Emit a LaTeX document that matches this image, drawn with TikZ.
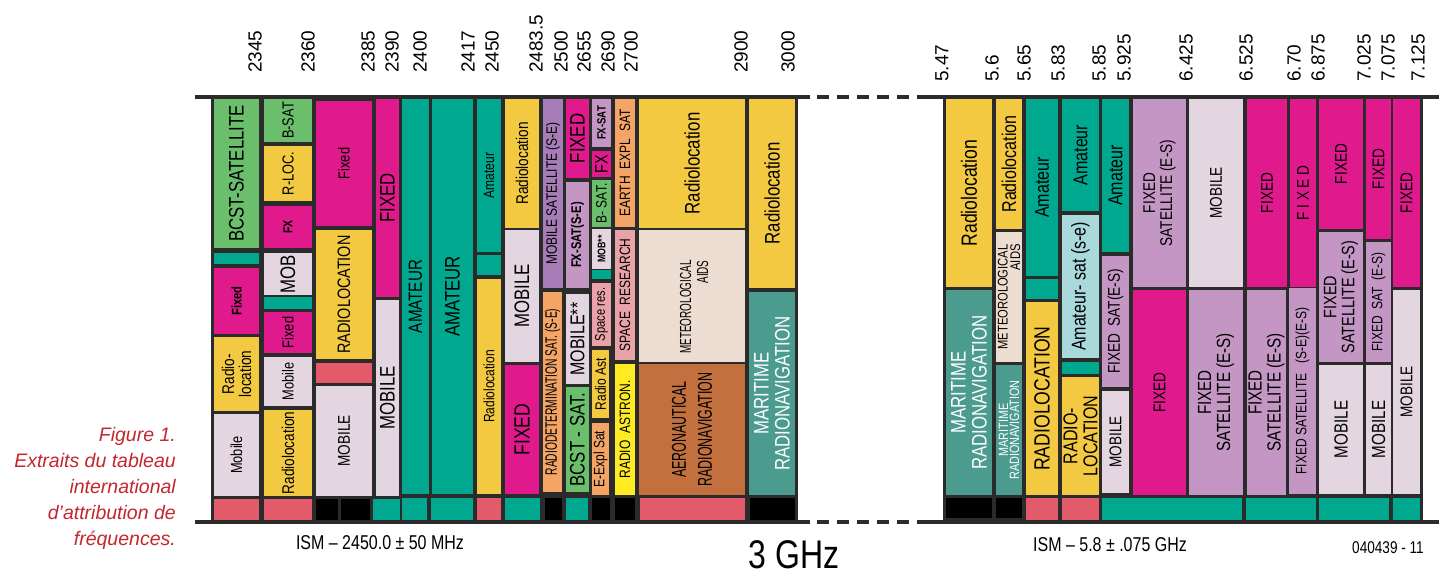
\documentclass[tikz,border=0pt]{standalone}
\usepackage{fontspec}
\setmainfont{Liberation Sans}
\newfontfamily\cond[FakeStretch=0.8]{Liberation Sans}
\newfontfamily\xcond[FakeStretch=0.62]{Liberation Sans}
\definecolor{dk}{HTML}{2B2B2B}
\definecolor{grn}{HTML}{6BBE6B}
\definecolor{mag}{HTML}{E01A8C}
\definecolor{yel}{HTML}{F3C941}
\definecolor{lgt}{HTML}{E3D6E0}
\definecolor{tea}{HTML}{00A890}
\definecolor{red}{HTML}{E35A6B}
\definecolor{pur}{HTML}{A77DB7}
\definecolor{lpu}{HTML}{C396C4}
\definecolor{org}{HTML}{F4A566}
\definecolor{spk}{HTML}{E9A3A8}
\definecolor{byl}{HTML}{FFEB22}
\definecolor{bge}{HTML}{EDDCD0}
\definecolor{brn}{HTML}{C1703E}
\definecolor{mtl}{HTML}{4B9B8F}
\definecolor{lcy}{HTML}{A9D9DA}
\definecolor{capred}{HTML}{C4262E}
\newcounter{bxc}
\tikzset{
  lbl/.style={rotate=90, inner sep=0pt, align=center, font=\cond\fontsize{#1}{#1}\selectfont},
  freq/.style={rotate=90, anchor=west, inner sep=0pt, font=\fontsize{19}{19}\selectfont},
  axisline/.style={dk, line width=4pt},
  dashline/.style={dk, line width=4pt, dash pattern=on 12pt off 8pt},
}
\newcommand\B[8][]{\fill[#6] (#2,#3) rectangle (#4,#5);
  \stepcounter{bxc}\node[lbl=#7,#1] (b\arabic{bxc}) at ({(#2+#4)/2},{(#3+#5)/2}) {#8};}
\newcommand\R[5]{\fill[#5] (#1,#2) rectangle (#3,#4);}
\begin{document}
\begin{tikzpicture}[x=1pt,y=-1pt]
\useasboundingbox (0,0) rectangle (1439,571);
% frames
\fill[dk] (211,95) rectangle (798,523);
\fill[dk] (943,95) rectangle (1423,523);
\draw[axisline] (195,97) -- (810,97);
\draw[dashline] (817,97) -- (923,97);
\draw[axisline] (923,97) -- (1439,97);
\draw[axisline] (195,521.5) -- (810,521.5);
\draw[dashline] (817,521.5) -- (923,521.5);
\draw[axisline] (923,521.5) -- (1439,521.5);
% ---------- left chart ----------
% col1
\B{214}{99}{259}{248}{grn}{21}{BCST-SATELLITE}
\R{214}{253}{259}{264}{tea}
\B{214}{268}{259}{334}{mag}{14}{\bfseries Fixed}
\B{214}{337}{259}{411}{yel}{17}{Radio-\\location}
\B{214}{414}{259}{496}{lgt}{16}{Mobile}
\R{214}{499}{259}{520}{red}
% col2
\B{264}{99}{312}{142}{grn}{16}{B-SAT}
\B{264}{146}{312}{201}{yel}{16}{R-LOC.}
\B{264}{206}{312}{248}{mag}{13}{\bfseries FX}
\B{264}{253}{312}{295}{lgt}{21}{MOB}
\R{264}{297}{312}{309}{tea}
\B{264}{312}{312}{353}{mag}{16}{Fixed}
\B{264}{357}{312}{406}{lgt}{16}{Mobile}
\B{264}{410}{312}{496}{yel}{17}{Radiolocation}
\R{264}{499}{312}{520}{red}
% col3
\B{316}{101}{372}{226}{mag}{16}{Fixed}
\B{316}{230}{372}{359}{yel}{18}{RADIOLOCATION}
\R{316}{363}{372}{383}{red}
\B{316}{386}{372}{496}{lgt}{17}{MOBILE}
\R{316}{499}{338}{520}{black}
\R{341}{499}{370}{520}{black}
% col4
\B{376}{99}{399}{297}{mag}{21}{FIXED}
\B{376}{300}{399}{496}{lgt}{21}{MOBILE}
\R{373}{499}{400}{520}{tea}
% col5-6
\B{402}{99}{429}{494}{tea}{19}{AMATEUR}
\R{402}{498}{427}{520}{tea}
\B{432}{99}{473}{494}{tea}{21}{AMATEUR}
\R{431}{498}{473}{520}{tea}
% col7
\B{477}{99}{501}{252}{tea}{15}{Amateur}
\R{477}{255}{501}{275}{tea}
\B{477}{279}{501}{494}{yel}{15}{Radiolocation}
\R{477}{498}{501}{520}{red}
% col8
\B{505}{99}{539}{228}{yel}{17}{Radiolocation}
\B{505}{230}{539}{362}{lgt}{21}{MOBILE}
\B{505}{365}{539}{494}{mag}{22}{FIXED}
\R{505}{498}{540}{520}{tea}
% col9
\B{543}{99}{563}{288}{pur}{15}{MOBILE\ SATELLITE\ (S-E)}
\B[font=\xcond\fontsize{16.5}{16.5}\selectfont]{543}{292}{562}{492}{org}{13}{RADIODETERMINATION SAT. (S-E)}
\R{545}{498}{562}{520}{black}
% col10
\B{566}{99}{589}{178}{mag}{21}{FIXED}
\B{566}{182}{589}{288}{lpu}{14}{\bfseries FX-SAT(S-E)}
\B{566}{294}{589}{384}{lgt}{20}{MOBILE**}
\B{566}{387}{589}{492}{grn}{21}{BCST - SAT.}
\R{566}{498}{588}{520}{tea}
% col11
\B{592}{99}{611}{147}{lpu}{12}{\bfseries FX-SAT}
\B{592}{151}{611}{177}{mag}{18}{FX}
\B{592}{180}{611}{227}{grn}{15}{B- SAT.}
\B{592}{229}{611}{269}{lgt}{11}{\bfseries MOB**}
\R{592}{270}{611}{279}{tea}
\B{592}{283}{611}{346}{spk}{14}{Space res.}
\B{592}{350}{609}{418}{yel}{15}{Radio Ast}
\B{592}{423}{609}{495}{org}{15}{E-Expl Sat}
\R{592}{498}{610}{520}{black}
% col12
\B{615}{99}{635}{227}{org}{15}{EARTH\ \ EXPL\ \ SAT}
\B{615}{230}{635}{360}{spk}{15}{SPACE\ \ RESEARCH}
\B{615}{364}{635}{495}{byl}{15}{RADIO\ \ ASTRON.}
\R{615}{498}{635}{520}{black}
% col13
\B{639}{99}{745}{228}{yel}{21}{Radiolocation}
\R{639}{230}{745}{362}{bge}
\node[rotate=90, inner sep=0pt, align=right, font=\xcond\fontsize{16}{17}\selectfont] (meteo1) at (694,307) {METEOROLOGICAL\\AIDS};
\B[font=\xcond\fontsize{20}{26}\selectfont]{639}{364}{745}{495}{brn}{16}{AERONAUTICAL\\RADIONAVIGATION}
\R{640}{498}{745}{520}{red}
% col14
\B{749}{99}{795}{288}{yel}{21}{Radiolocation}
\B[text=white]{749}{292}{795}{495}{mtl}{21}{MARITIME\\RADIONAVIGATION}
\R{750}{498}{795}{520}{black}
% ---------- right chart ----------
\B{946}{99}{992}{287}{yel}{22}{Radiolocation}
\B[text=white]{946}{290}{992}{495}{mtl}{21}{MARITIME\\RADIONAVIGATION}
\R{946}{498}{992}{518}{black}
\B{996}{99}{1022}{229}{yel}{20}{Radiolocation}
\B[align=right, font=\cond\fontsize{14}{12.5}\selectfont]{996}{232}{1022}{362}{bge}{14}{METEOROLOGICAL\\AIDS}
\B[text=white, font=\cond\fontsize{13.5}{11}\selectfont]{996}{365}{1022}{495}{mtl}{13}{MARITIME\\RADIONAVIGATION}
\R{996}{498}{1022}{518}{black}
\B{1026}{99}{1058}{276}{tea}{20}{Amateur}
\R{1026}{279}{1058}{299}{tea}
\B{1026}{302}{1058}{495}{yel}{22}{RADIOLOCATION}
\R{1026}{498}{1058}{520}{red}
\B{1062}{99}{1099}{211}{tea}{20}{Amateur}
\B{1062}{215}{1099}{358}{lcy}{20}{Amateur- sat (s-e)}
\R{1062}{362}{1099}{374}{tea}
\B{1062}{377}{1099}{495}{yel}{20}{RADIO-\\LOCATION}
\R{1062}{498}{1099}{520}{red}
\B{1102}{99}{1129}{252}{tea}{20}{Amateur}
\B{1102}{256}{1129}{387}{lpu}{17}{FIXED\ \ SAT(E-S)}
\B{1102}{391}{1129}{493}{lgt}{17}{MOBILE}
\B{1133}{99}{1186}{287}{lpu}{17}{FIXED\\SATELLITE (E-S)}
\B{1133}{290}{1186}{495}{mag}{17}{FIXED}
\B{1189}{99}{1243}{287}{lgt}{17}{MOBILE}
\B{1189}{290}{1243}{495}{lpu}{19}{FIXED\\SATELLITE (E-S)}
\R{1102}{498}{1242}{520}{tea}
\B{1247}{99}{1287}{287}{mag}{17}{FIXED}
\B{1247}{290}{1286}{495}{lpu}{19}{FIXED\\SATELLITE (E-S)}
\B{1290}{99}{1316}{287}{mag}{17}{F I X E D}
\B{1289}{288}{1316}{494}{lpu}{15}{FIXED\ SATELLITE\ \ \ (S-E)(E-S)}
\R{1246}{498}{1316}{520}{tea}
\B{1319}{99}{1363}{229}{mag}{17}{FIXED}
\B{1319}{232}{1363}{362}{lpu}{18}{FIXED\\SATELLITE (E-S)}
\B{1319}{365}{1363}{494}{lgt}{19}{MOBILE}
\B{1366}{99}{1391}{239}{mag}{17}{FIXED}
\B{1366}{242}{1391}{362}{lpu}{15}{FIXED\ \ SAT\ \ (E-S)}
\B{1366}{365}{1391}{494}{lgt}{19}{MOBILE}
\R{1319}{498}{1389}{520}{tea}
\B{1393}{99}{1420}{287}{mag}{17}{FIXED}
\B{1393}{290}{1420}{494}{lgt}{17}{MOBILE}
\R{1393}{498}{1420}{520}{tea}
% ---------- frequency labels ----------
\foreach \xx/\tt [count=\i] in {255/2345,308/2360,368/2385,392/2390,420/2400,468/2417,492/2450,536/2483.5,561/2500,584/2655,608/2690,631/2700,741/2900,788/3000}
  \node[freq] (fl\i) at (\xx,73) {\tt};
\foreach \xx/\tt [count=\i] in {942/5.47,992/5.6,1024/5.65,1058/5.83,1099/5.85,1124/5.925,1186/6.425,1246/6.525,1294/6.70,1318/6.875,1364/7.025,1388/7.075,1418/7.125}
  \node[freq] (fr\i) at (\xx,82) {\tt};
% ---------- texts ----------
\node[anchor=east, inner sep=0pt, align=right, text=capred, font=\itshape\fontsize{19.5}{26}\selectfont] (caption) at (176,488)
  {Figure 1.\\Extraits du tableau\\international\\d’attribution de\\fréquences.};
\node[inner sep=0pt, font=\cond\fontsize{20}{20}\selectfont] (ism1) at (380,543) {ISM – 2450.0 ± 50 MHz};
\node[inner sep=0pt, font=\cond\fontsize{20}{20}\selectfont] (ism2) at (1110,545) {ISM – 5.8 ± .075 GHz};
\node[inner sep=0pt, font=\cond\fontsize{40}{40}\selectfont] (ghz) at (794,555) {3 GHz};
\node[inner sep=0pt, font=\cond\fontsize{17}{17}\selectfont] (code) at (1388,548) {040439 - 11};
\end{tikzpicture}
\end{document}
